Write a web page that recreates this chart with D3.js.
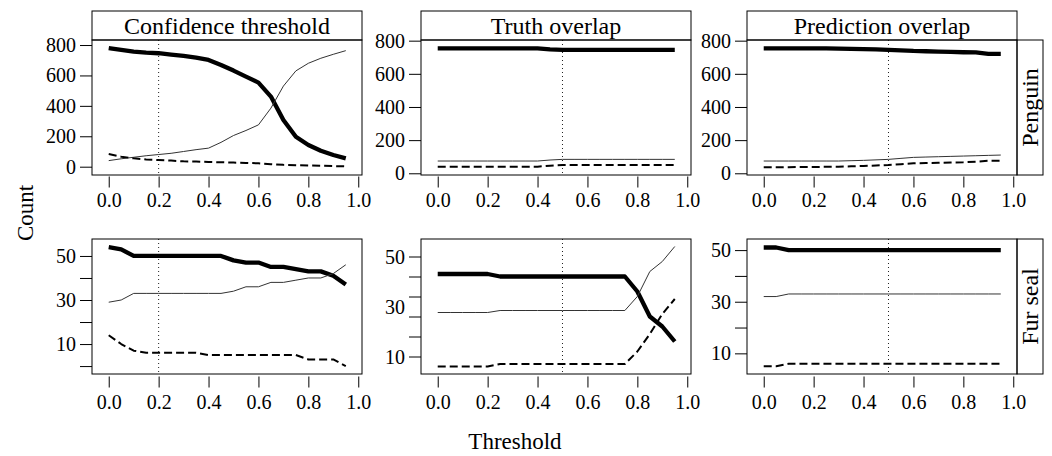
<!DOCTYPE html>
<html>
<head>
<meta charset="utf-8">
<script src="https://cdn.jsdelivr.net/npm/d3@7"></script>
<style>
  body { margin: 0; background: #fff; }
</style>
</head>
<body>
<div id="chart"></div>
<script>
// thresholds along the x axis
var thresholds = [0, 0.05, 0.1, 0.15, 0.2, 0.25, 0.3, 0.35, 0.4, 0.45,
                  0.5, 0.55, 0.6, 0.65, 0.7, 0.75, 0.8, 0.85, 0.9, 0.95];

var methods = ["Confidence threshold", "Truth overlap", "Prediction overlap"];
var species = ["Penguin", "Fur seal"];
var chosen = [0.2, 0.5, 0.5];   // dotted reference lines
var xTicks = [0, 0.2, 0.4, 0.6, 0.8, 1.0];

// Penguin - confidence threshold
var pengConfTP = [780, 768, 757, 750, 746, 737, 728, 717, 702, 669, 632, 592, 553, 461, 307, 197, 143, 105, 77, 55];
var pengConfFN = [40, 52, 62, 72, 80, 88, 100, 112, 122, 160, 205, 238, 275, 385, 530, 630, 680, 713, 739, 763];
var pengConfFP = [83, 66, 55, 48, 44, 40, 35, 34, 31, 29, 27, 25, 22, 16, 12, 10, 8, 6, 4, 2];
// Penguin - truth overlap
var pengTruthTP = [754, 754, 754, 754, 754, 754, 754, 754, 754, 748, 745, 745, 745, 745, 745, 745, 745, 745, 745, 745];
var pengTruthFN = [74, 74, 74, 74, 74, 74, 74, 74, 74, 80, 84, 84, 84, 84, 84, 84, 84, 84, 84, 84];
var pengTruthFP = [40, 40, 40, 40, 40, 40, 40, 40, 40, 46, 50, 50, 50, 50, 50, 50, 50, 50, 50, 50];
// Penguin - prediction overlap
var pengPredTP = [754, 754, 754, 754, 754, 753, 752, 750, 749, 747, 745, 742, 738, 736, 734, 732, 730, 729, 720, 720];
var pengPredFN = [74, 74, 74, 74, 74, 74, 74, 76, 78, 81, 84, 90, 96, 98, 100, 102, 104, 106, 108, 110];
var pengPredFP = [36, 36, 37, 38, 38, 39, 40, 42, 44, 47, 50, 55, 60, 62, 63, 65, 66, 70, 76, 76];
// Fur seal - confidence threshold
var sealConfTP = [54, 53, 50, 50, 50, 50, 50, 50, 50, 50, 48, 47, 47, 45, 45, 44, 43, 43, 41, 37];
var sealConfFN = [29, 30, 33, 33, 33, 33, 33, 33, 33, 33, 34, 36, 36, 38, 38, 39, 40, 40, 42, 46];
var sealConfFP = [14, 10, 7, 6, 6, 6, 6, 6, 5, 5, 5, 5, 5, 5, 5, 5, 3, 3, 3, 0];
// Fur seal - truth overlap
var sealTruthTP = [43, 43, 43, 43, 43, 42, 42, 42, 42, 42, 42, 42, 42, 42, 42, 42, 36, 26, 22, 16];
var sealTruthFN = [27.6, 27.6, 27.6, 27.6, 27.6, 28.4, 28.4, 28.4, 28.4, 28.4, 28.4, 28.4, 28.4, 28.4, 28.4, 28.4, 34, 44, 48, 54];
var sealTruthFP = [6, 6, 6, 6, 6, 7, 7, 7, 7, 7, 7, 7, 7, 7, 7, 7, 12, 19, 27, 33];
// Fur seal - prediction overlap
var sealPredTP = [51, 51, 50, 50, 50, 50, 50, 50, 50, 50, 50, 50, 50, 50, 50, 50, 50, 50, 50, 50];
var sealPredFN = [32, 32, 33, 33, 33, 33, 33, 33, 33, 33, 33, 33, 33, 33, 33, 33, 33, 33, 33, 33];
var sealPredFP = [5, 5, 6, 6, 6, 6, 6, 6, 6, 6, 6, 6, 6, 6, 6, 6, 6, 6, 6, 6];

// y axis setup per panel (row, col)
var yDomains = [[[-54.6, 833], [-10.3, 804], [-10.3, 804]],
                [[-3.6, 57.7], [3, 57], [2, 54.3]]];
var yTickMarks = [[[0, 200, 400, 600, 800], [0, 200, 400, 600, 800], [0, 200, 400, 600, 800]],
                  [[0, 10, 20, 30, 40, 50], [10, 18, 26, 34, 42, 50], [10, 20, 30, 40, 50]]];
var yTickLabels = [[[0, 200, 400, 600, 800], [0, 200, 400, 600, 800], [0, 200, 400, 600, 800]],
                   [[10, 30, 50], [10, 30, 50], [10, 30, 50]]];

var series = [
  [[pengConfTP, pengConfFN, pengConfFP], [pengTruthTP, pengTruthFN, pengTruthFP], [pengPredTP, pengPredFN, pengPredFP]],
  [[sealConfTP, sealConfFN, sealConfFP], [sealTruthTP, sealTruthFN, sealTruthFP], [sealPredTP, sealPredFN, sealPredFP]]
];
// line styles: TP thick, FN thin, FP dashed
var styles = [
  {w: 4.3, dash: null},
  {w: 1, dash: null},
  {w: 2, dash: "8,4"}
];

var FONT = "'Liberation Serif', 'Times New Roman', Times, serif";
var W = 1052, H = 456;
var colLeft = [92, 421, 747], panelW = 270;
var rowTop = [40, 239], panelH = 135;
var stripH = 29, sideW = 26;

var svg = d3.select("#chart").append("svg")
    .attr("width", W)
    .attr("height", H)
    .style("font-family", FONT);

rowTop.forEach(function(top, r) {
  colLeft.forEach(function(left, c) {
    var g = svg.append("g").attr("transform", "translate(" + left + "," + top + ")");

    var x = d3.scaleLinear().domain([-0.067, 1.015]).range([0, panelW]);
    var y = d3.scaleLinear().domain(yDomains[r][c]).range([panelH, 0]);

    // dotted line at the chosen threshold
    g.append("line")
        .attr("x1", x(chosen[c])).attr("x2", x(chosen[c]))
        .attr("y1", 0).attr("y2", panelH)
        .attr("stroke", "#222")
        .attr("stroke-width", 1)
        .attr("stroke-dasharray", "1,3");

    var line = d3.line()
        .x(function(d, i) { return x(thresholds[i]); })
        .y(function(d) { return y(d); });

    series[r][c].forEach(function(vals, k) {
      g.append("path")
          .attr("d", line(vals))
          .attr("fill", "none")
          .attr("stroke", k == 1 ? "#333" : "#000")
          .attr("stroke-width", styles[k].w)
          .attr("stroke-linejoin", "round")
          .attr("stroke-dasharray", styles[k].dash);
    });

    // panel frame
    g.append("rect")
        .attr("width", panelW).attr("height", panelH)
        .attr("fill", "none").attr("stroke", "#000");

    // x axis
    var xAxis = g.append("g")
        .attr("transform", "translate(0," + (panelH + (r == 0 ? 1.5 : 2.5)) + ")")
        .call(d3.axisBottom(x).tickValues(xTicks).tickSize(11).tickPadding(r == 0 ? 5 : 7).tickFormat(d3.format(".1f")));
    xAxis.attr("font-family", FONT).attr("font-size", 20);
    xAxis.select(".domain").remove();
    xAxis.selectAll("text").attr("fill", "#000");

    // y axis tick marks
    var yAxis = g.append("g")
        .call(d3.axisLeft(y).tickValues(yTickMarks[r][c]).tickSize(12).tickFormat(""));
    yAxis.select(".domain").remove();
    // y axis labels
    g.selectAll(".ylab")
      .data(yTickLabels[r][c])
      .enter().append("text")
        .attr("x", -16)
        .attr("y", function(d) { return y(d); })
        .attr("dy", "0.35em")
        .attr("text-anchor", "end")
        .attr("font-size", 20)
        .text(function(d) { return d; });

    // strip on top row
    if (r == 0) {
      svg.append("rect")
          .attr("x", left).attr("y", top - stripH)
          .attr("width", panelW).attr("height", stripH)
          .attr("fill", "none").attr("stroke", "#000");
      svg.append("text")
          .attr("x", left + panelW / 2).attr("y", top - stripH / 2)
          .attr("dy", "0.35em")
          .attr("text-anchor", "middle")
          .attr("font-size", 24)
          .text(methods[c]);
    }
    // strip on right column
    if (c == 2) {
      svg.append("rect")
          .attr("x", left + panelW).attr("y", top)
          .attr("width", sideW).attr("height", panelH)
          .attr("fill", "none").attr("stroke", "#000");
      svg.append("text")
          .attr("transform", "translate(" + (left + panelW + sideW / 2) + "," + (top + panelH / 2) + ") rotate(-90)")
          .attr("dy", "0.35em")
          .attr("text-anchor", "middle")
          .attr("font-size", 24)
          .text(species[r]);
    }
  });
});

// axis titles
svg.append("text")
    .attr("transform", "translate(25,213) rotate(-90)")
    .attr("dy", "0.35em")
    .attr("text-anchor", "middle")
    .attr("font-size", 23)
    .text("Count");

svg.append("text")
    .attr("x", 515).attr("y", 441)
    .attr("dy", "0.35em")
    .attr("text-anchor", "middle")
    .attr("font-size", 23)
    .text("Threshold");
</script>
</body>
</html>
